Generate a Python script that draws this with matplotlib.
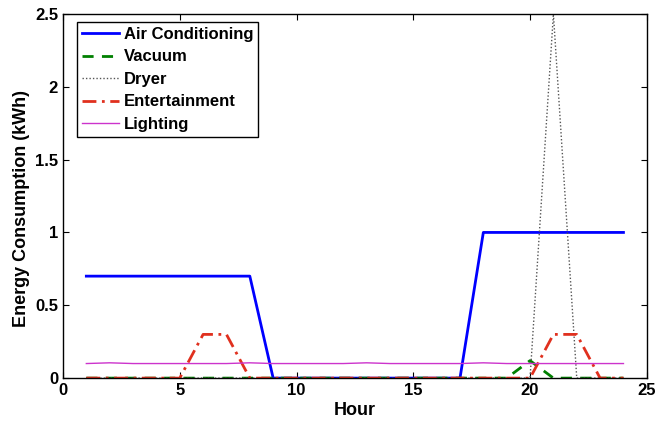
import matplotlib
matplotlib.use("Agg")
import matplotlib.pyplot as plt

plt.rcParams["font.family"] = ["Liberation Sans", "DejaVu Sans"]
plt.rcParams["font.weight"] = "bold"

hours = list(range(1, 25))
air_cond = [0.7] * 8 + [0] * 9 + [1.0] * 7
vacuum = [0] * 19 + [0.12] + [0] * 4
dryer = [0] * 20 + [2.5] + [0] * 3
entertainment = [0, 0, 0, 0, 0, 0.3, 0.3, 0, 0, 0, 0, 0, 0, 0, 0, 0, 0, 0, 0, 0, 0.3, 0.3, 0, 0]
lighting = [0.1, 0.105, 0.1, 0.1, 0.1, 0.1, 0.1, 0.105, 0.1, 0.1, 0.1, 0.1, 0.105, 0.1, 0.1,
            0.1, 0.1, 0.105, 0.1, 0.1, 0.1, 0.1, 0.1, 0.1]

fig = plt.figure(figsize=(6.56, 4.22), dpi=100)
ax = fig.add_axes([0.096, 0.104, 0.89, 0.863])

ax.plot(hours, air_cond, color="#0000ff", lw=2, label="Air Conditioning")
ax.plot(hours, vacuum, color="#008000", lw=2, ls=(0, (4, 3)), label="Vacuum")
ax.plot(hours, dryer, color="#555555", lw=1, ls=(0, (1, 1.5)), label="Dryer")
ax.plot(hours, entertainment, color="#e0301e", lw=2, ls=(0, (5, 2, 1, 2)), label="Entertainment")
ax.plot(hours, lighting, color="#cc33cc", lw=1, label="Lighting")

ax.set_xlim(0, 25)
ax.set_ylim(0, 2.5)
ax.set_xticks([0, 5, 10, 15, 20, 25])
ax.set_yticks([0, 0.5, 1, 1.5, 2, 2.5])
ax.set_yticklabels(["0", "0.5", "1", "1.5", "2", "2.5"])
ax.tick_params(direction="in", top=True, right=True, labelsize=12, length=4)
for s in ax.spines.values():
    s.set_linewidth(1)
ax.set_xlabel("Hour", fontsize=13, fontweight="bold", labelpad=3)
ax.set_ylabel("Energy Consumption (kWh)", fontsize=13, fontweight="bold")
ax.yaxis.set_label_coords(-0.056, 0.465)

leg = ax.legend(loc="upper left", bbox_to_anchor=(0.024, 0.978), borderaxespad=0,
                fontsize=12, fancybox=False, framealpha=1, edgecolor="black",
                handlelength=2.2, labelspacing=0.45, handletextpad=0.3, borderpad=0.3)
leg.get_frame().set_linewidth(1)

fig.savefig("out.png", dpi=100)
